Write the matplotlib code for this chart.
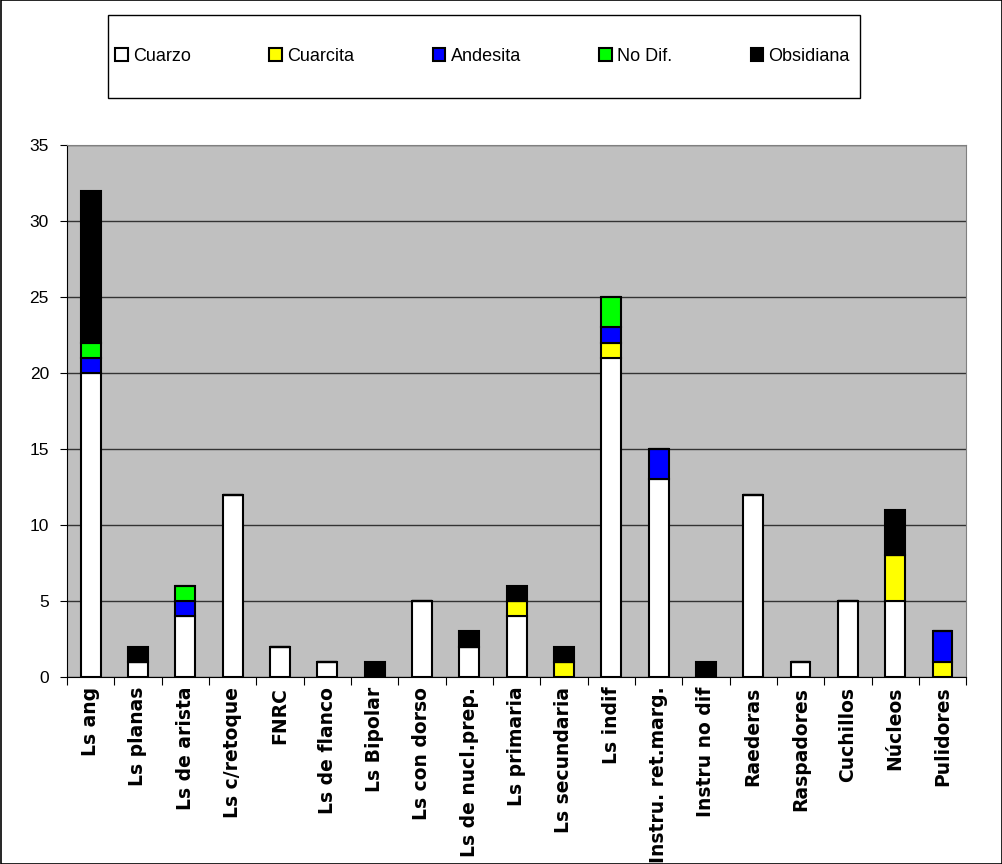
import numpy as np
import matplotlib.pyplot as plt
from matplotlib.patches import Rectangle

categorias = ["Ls ang", "Ls planas", "Ls de arista", "Ls c/retoque", "FNRC",
              "Ls de flanco", "Ls Bipolar", "Ls con dorso", "Ls de nucl.prep.",
              "Ls primaria", "Ls secundaria", "Ls indif", "Instru. ret.marg.",
              "Instru no dif", "Raederas", "Raspadores", "Cuchillos", "Núcleos",
              "Pulidores"]

cuarzo    = [20, 1, 4, 12, 2, 1, 0, 5, 2, 4, 0, 21, 13, 0, 12, 1, 5, 5, 0]
cuarcita  = [0, 0, 0, 0, 0, 0, 0, 0, 0, 1, 1, 1, 0, 0, 0, 0, 0, 3, 1]
andesita  = [1, 0, 1, 0, 0, 0, 0, 0, 0, 0, 0, 1, 2, 0, 0, 0, 0, 0, 2]
no_dif    = [1, 0, 1, 0, 0, 0, 0, 0, 0, 0, 0, 2, 0, 0, 0, 0, 0, 0, 0]
obsidiana = [10, 1, 0, 0, 0, 0, 1, 0, 1, 1, 1, 0, 0, 1, 0, 0, 0, 3, 0]

series = [("Cuarzo", cuarzo, "white"),
          ("Cuarcita", cuarcita, "#FFFF00"),
          ("Andesita", andesita, "#0000FF"),
          ("No Dif.", no_dif, "#00FF00"),
          ("Obsidiana", obsidiana, "black")]

fig = plt.figure(figsize=(10.03, 8.64), dpi=100)
ax = fig.add_axes([0.0668, 0.2164, 0.8965, 0.6157])
ax.set_facecolor("#C0C0C0")

x = np.arange(len(categorias))
base = np.zeros(len(categorias))
for nombre, vals, col in series:
    vals = np.array(vals, dtype=float)
    ax.bar(x, vals, 0.42, bottom=base, color=col, edgecolor="black",
           linewidth=1.5, label=nombre, zorder=3)
    base += vals

ax.set_xlim(-0.5, len(categorias) - 0.5)
ax.set_ylim(0, 35)
ax.set_yticks(range(0, 36, 5))
ax.yaxis.grid(True, color="#333333", linewidth=1.0, zorder=1)
ax.set_axisbelow(True)

# ticks on the category borders, labels centred under each bar
ax.set_xticks(np.arange(len(categorias) + 1) - 0.5, minor=False)
ax.set_xticklabels([])
ax.set_xticks(x, minor=True)
ax.set_xticklabels(categorias, minor=True, rotation=90, fontweight="bold",
                   fontsize=13.5, family="DejaVu Sans")
ax.tick_params(axis="x", which="minor", length=0, pad=7)
ax.tick_params(axis="x", which="major", length=6, direction="out")
ax.tick_params(axis="y", length=5, direction="out", labelsize=12.5, pad=8)
for lab in ax.get_yticklabels():
    lab.set_family("Liberation Sans")

ax.spines["top"].set_color("#808080")
ax.spines["right"].set_color("#808080")
ax.spines["left"].set_color("black")
ax.spines["bottom"].set_color("black")

# legend box
caja = (108 / 1003, 1 - 98 / 864, 752 / 1003, 83 / 864)
fig.patches.append(Rectangle(caja[:2], caja[2], caja[3], transform=fig.transFigure,
                             fill=False, edgecolor="black", linewidth=1.0))
fig.legend(loc="center", ncol=5, mode="expand",
           bbox_to_anchor=(115 / 1003, caja[1] + caja[3] / 2 - 0.01, 735 / 1003, 0.02),
           frameon=False, prop={"family": "Liberation Sans", "size": 13},
           handlelength=0.7, handleheight=0.7, handletextpad=0.3,
           borderpad=0, borderaxespad=0)

fig.patches.append(Rectangle((0.0005, 0.0005), 0.999, 0.999, transform=fig.transFigure,
                             fill=False, edgecolor="black", linewidth=1.2))

plt.savefig("out.png", dpi=100)
